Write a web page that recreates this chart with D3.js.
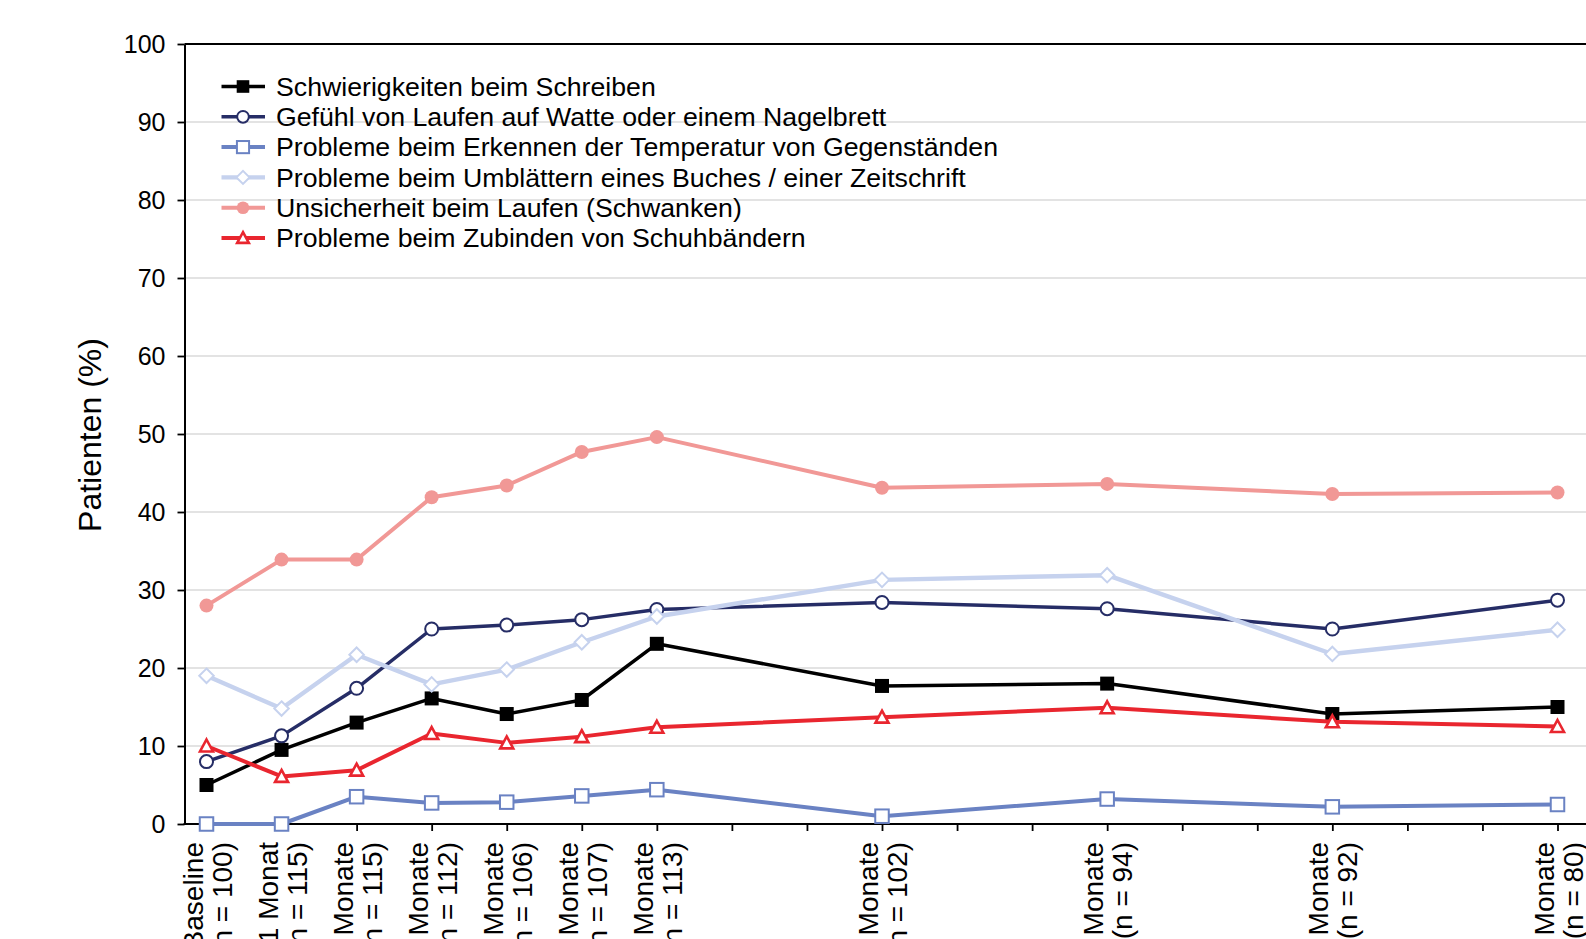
<!DOCTYPE html>
<html>
<head>
<meta charset="utf-8">
<script src="https://cdn.jsdelivr.net/npm/d3@7"></script>
<style>
  html, body { margin: 0; padding: 0; background: #fff; overflow: hidden; }
  svg { display: block; font-family: "Liberation Sans", Arial, sans-serif; }
</style>
</head>
<body>
<svg id="chart" width="1586" height="939"></svg>
<script>
// Follow-up visits in months and their labels
const months = [0, 1, 2, 3, 4, 5, 6, 9, 12, 15, 18];
const visitLabels = ["Baseline", "1 Monat", "2 Monate", "3 Monate", "4 Monate", "5 Monate",
                     "6 Monate", "9 Monate", "12 Monate", "15 Monate", "18 Monate"];
const nLabels = ["(n = 100)", "(n = 115)", "(n = 115)", "(n = 112)", "(n = 106)", "(n = 107)",
                 "(n = 113)", "(n = 102)", "(n = 94)", "(n = 92)", "(n = 80)"];
const yTicks = [0, 10, 20, 30, 40, 50, 60, 70, 80, 90, 100];

// Share of patients (%) per symptom
const schreiben   = [5.0, 9.5, 13.0, 16.1, 14.1, 15.9, 23.1, 17.7, 18.0, 14.1, 15.0];
const watte       = [8.0, 11.3, 17.4, 25.0, 25.5, 26.2, 27.5, 28.4, 27.6, 25.0, 28.7];
const temperatur  = [0.0, 0.0, 3.5, 2.7, 2.8, 3.6, 4.4, 1.0, 3.2, 2.2, 2.5];
const umblaettern = [19.0, 14.8, 21.7, 17.9, 19.8, 23.3, 26.6, 31.3, 31.9, 21.8, 24.9];
const schwanken   = [28.0, 33.9, 33.9, 41.9, 43.4, 47.7, 49.6, 43.1, 43.6, 42.3, 42.5];
const schuh       = [10.0, 6.1, 6.9, 11.6, 10.4, 11.2, 12.4, 13.7, 14.9, 13.1, 12.5];

const seriesNames = [
  "Schwierigkeiten beim Schreiben",
  "Gefühl von Laufen auf Watte oder einem Nagelbrett",
  "Probleme beim Erkennen der Temperatur von Gegenständen",
  "Probleme beim Umblättern eines Buches / einer Zeitschrift",
  "Unsicherheit beim Laufen (Schwanken)",
  "Probleme beim Zubinden von Schuhbändern"
];
const seriesValues = [schreiben, watte, temperatur, umblaettern, schwanken, schuh];

// Styling per series
const styles = [
  { color: "#000000", width: 3.5, marker: "squareFilled", size: 14 },
  { color: "#262d66", width: 3.5, marker: "circleOpen", size: 13 },
  { color: "#6a82c3", width: 4, marker: "squareOpen", size: 13.5 },
  { color: "#c6d2ee", width: 4.4, marker: "diamondOpen", size: 14.5 },
  { color: "#f19896", width: 4, marker: "circleFilled", size: 14 },
  { color: "#e9262f", width: 4, marker: "triangleOpen", size: 13 }
];

const svg = d3.select("#chart");
const plotLeft = 184.5, plotRight = 1600, plotTop = 44, plotBottom = 824;

const x = d3.scaleLinear().domain([0, 18]).range([206.5, 1557.5]);
const y = d3.scaleLinear().domain([0, 100]).range([plotBottom, plotTop]);

// Gridlines
svg.append("g")
  .selectAll("line")
  .data(yTicks.filter(d => d > 0 && d < 100))
  .join("line")
  .attr("x1", plotLeft).attr("x2", plotRight)
  .attr("y1", d => y(d)).attr("y2", d => y(d))
  .attr("stroke", "#dadada").attr("stroke-width", 1.5);

// Top frame line
svg.append("line")
  .attr("x1", plotLeft).attr("x2", plotRight)
  .attr("y1", plotTop).attr("y2", plotTop)
  .attr("stroke", "#000").attr("stroke-width", 2);

// Y axis
const yAxis = svg.append("g")
  .attr("transform", `translate(${plotLeft},0)`)
  .call(d3.axisLeft(y).tickValues(yTicks).tickSize(7).tickPadding(12).tickSizeOuter(0));
yAxis.select(".domain").attr("stroke", "#000").attr("stroke-width", 2);
yAxis.selectAll(".tick line").attr("stroke", "#000").attr("stroke-width", 1.8);
yAxis.selectAll(".tick text")
  .attr("font-size", 25).attr("fill", "#000")
  .attr("font-family", "'Liberation Sans', Arial, sans-serif");

// X axis with monthly ticks
const xAxis = svg.append("g")
  .attr("transform", `translate(0,${plotBottom})`)
  .call(d3.axisBottom(x).tickValues(d3.range(0, 19)).tickSize(7).tickFormat("").tickSizeOuter(0));
xAxis.select(".domain").remove();
xAxis.selectAll(".tick line").attr("stroke", "#000").attr("stroke-width", 1.8);
svg.append("line")
  .attr("x1", plotLeft - 1).attr("x2", plotRight)
  .attr("y1", plotBottom).attr("y2", plotBottom)
  .attr("stroke", "#000").attr("stroke-width", 2);

// Visit labels (two rotated lines)
const lab = svg.append("g").selectAll("g")
  .data(months.map((m, i) => ({ m, a: visitLabels[i], b: nLabels[i] })))
  .join("g")
  .attr("transform", d => `translate(${x(d.m)},842) rotate(-90)`);
lab.append("text")
  .attr("x", 0).attr("y", -4)
  .attr("text-anchor", "end").attr("font-size", 28).attr("fill", "#000")
  .text(d => d.a);
lab.append("text")
  .attr("x", 0).attr("y", 25)
  .attr("text-anchor", "end").attr("font-size", 28).attr("fill", "#000")
  .text(d => d.b);

// Y axis title
svg.append("text")
  .attr("transform", "translate(101,435) rotate(-90)")
  .attr("text-anchor", "middle")
  .attr("font-size", 32).attr("fill", "#000")
  .text("Patienten (%)");

// Marker drawing
function drawMarker(sel, st) {
  const s = st.size, c = st.color;
  switch (st.marker) {
    case "squareFilled":
      sel.append("rect").attr("x", -s / 2).attr("y", -s / 2).attr("width", s).attr("height", s)
        .attr("fill", c);
      break;
    case "squareOpen":
      sel.append("rect").attr("x", -s / 2).attr("y", -s / 2).attr("width", s).attr("height", s)
        .attr("fill", "#fff").attr("stroke", c).attr("stroke-width", 2);
      break;
    case "circleOpen":
      sel.append("circle").attr("r", s / 2).attr("fill", "#fff").attr("stroke", c).attr("stroke-width", 2);
      break;
    case "circleFilled":
      sel.append("circle").attr("r", s / 2).attr("fill", c);
      break;
    case "diamondOpen":
      sel.append("path").attr("d", `M0,${-s / 2}L${s / 2},0L0,${s / 2}L${-s / 2},0Z`)
        .attr("fill", "#fff").attr("stroke", c).attr("stroke-width", 2);
      break;
    case "triangleOpen":
      sel.append("path").attr("d", `M0,${-s / 2}L${s / 2},${s * 0.42}L${-s / 2},${s * 0.42}Z`)
        .attr("fill", "#fff").attr("stroke", c).attr("stroke-width", 2.6).attr("stroke-linejoin", "miter");
      break;
  }
}

// Series lines and markers
const line = d3.line().x(d => x(d.m)).y(d => y(d.v));
seriesValues.forEach((vals, i) => {
  const st = styles[i];
  const pts = months.map((m, j) => ({ m, v: vals[j] }));
  const g = svg.append("g");
  g.append("path").datum(pts)
    .attr("d", line).attr("fill", "none")
    .attr("stroke", st.color).attr("stroke-width", st.width)
    .attr("stroke-linejoin", "round");
  g.selectAll("g.pt").data(pts).join("g").attr("class", "pt")
    .attr("transform", d => `translate(${x(d.m)},${y(d.v)})`)
    .each(function () { drawMarker(d3.select(this), st); });
});

// Legend
const legend = svg.append("g").selectAll("g")
  .data(seriesNames.map((n, i) => ({ n, st: styles[i], i })))
  .join("g")
  .attr("transform", d => `translate(0,${86.5 + d.i * 30.3})`);
legend.append("line")
  .attr("x1", 221.5).attr("x2", 265).attr("y1", 0).attr("y2", 0)
  .attr("stroke", d => d.st.color).attr("stroke-width", d => d.st.width);
legend.append("g").attr("transform", "translate(243,0)")
  .each(function (d) { drawMarker(d3.select(this), Object.assign({}, d.st, { size: d.st.size * 0.9 })); });
legend.append("text")
  .attr("x", 276).attr("y", 0).attr("dy", "0.35em")
  .attr("font-size", 26.7).attr("fill", "#000")
  .text(d => d.n);
</script>
</body>
</html>
